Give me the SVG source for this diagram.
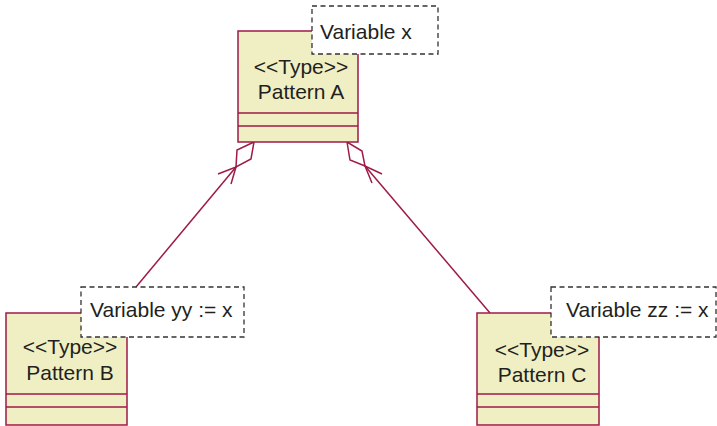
<svg xmlns="http://www.w3.org/2000/svg" width="717" height="426" viewBox="0 0 717 426">
  <style>
    .cls { fill: #F0EFC4; stroke: #9E1A48; stroke-width: 1.5; }
    .div { stroke: #9E1A48; stroke-width: 1.5; fill: none; }
    .note { fill: #FFFFFF; stroke: #333333; stroke-width: 1.3; stroke-dasharray: 5 3.5; }
    .lbl { font-family: "Liberation Sans", Arial, Helvetica, sans-serif; font-size: 21px; fill: #231F20; }
    .mid { text-anchor: middle; }
    .conn { stroke: #9E1A48; stroke-width: 1.5; fill: none; stroke-linejoin: miter; }
  </style>

  <!-- aggregation connectors (open diamond at the whole, open arrow pointing at it) -->
  <g id="connectors">
    <g id="agg-b-a">
      <line class="conn" x1="236" y1="167" x2="136" y2="287"/>
      <polygon class="conn" points="254,142 237,150 236,167 251,159"/>
      <polyline class="conn" points="218,174 236,167 231,184"/>
    </g>
    <g id="agg-c-a">
      <line class="conn" x1="365" y1="166" x2="490" y2="313"/>
      <polygon class="conn" points="347,142 350,160 365,166 362,151"/>
      <polyline class="conn" points="382,174 365,166 372,183"/>
    </g>
  </g>

  <!-- Pattern A -->
  <g id="pattern-a">
    <rect class="cls" x="238" y="31" width="120" height="111"/>
    <line class="div" x1="238" y1="113" x2="358" y2="113"/>
    <line class="div" x1="238" y1="126" x2="358" y2="126"/>
    <text class="lbl mid" x="301" y="74">&lt;&lt;Type&gt;&gt;</text>
    <text class="lbl mid" x="301" y="99">Pattern A</text>
  </g>
  <g id="note-a">
    <rect class="note" x="312" y="6" width="126" height="48"/>
    <text class="lbl" x="320" y="39">Variable x</text>
  </g>

  <!-- Pattern B -->
  <g id="pattern-b">
    <rect class="cls" x="6" y="313" width="121" height="112"/>
    <line class="div" x1="6" y1="394" x2="127" y2="394"/>
    <line class="div" x1="6" y1="407" x2="127" y2="407"/>
    <text class="lbl mid" x="70" y="354">&lt;&lt;Type&gt;&gt;</text>
    <text class="lbl mid" x="70" y="380">Pattern B</text>
  </g>
  <g id="note-b">
    <rect class="note" x="81" y="287" width="163" height="50"/>
    <text class="lbl" x="90" y="317">Variable yy := x</text>
  </g>

  <!-- Pattern C -->
  <g id="pattern-c">
    <rect class="cls" x="477" y="313" width="122" height="112"/>
    <line class="div" x1="477" y1="394" x2="599" y2="394"/>
    <line class="div" x1="477" y1="407" x2="599" y2="407"/>
    <text class="lbl mid" x="542" y="357">&lt;&lt;Type&gt;&gt;</text>
    <text class="lbl mid" x="542" y="382">Pattern C</text>
  </g>
  <g id="note-c">
    <rect class="note" x="551" y="287" width="165" height="50"/>
    <text class="lbl" x="566" y="317">Variable zz := x</text>
  </g>
</svg>
